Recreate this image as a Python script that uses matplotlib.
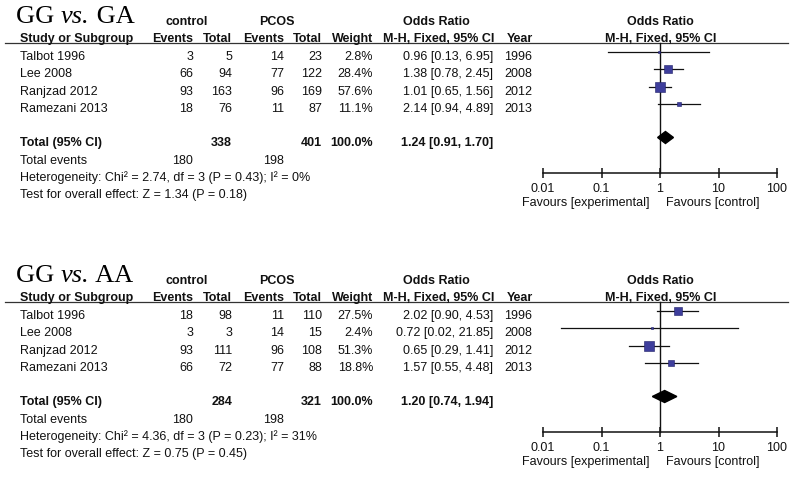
import matplotlib
matplotlib.use("Agg")
import matplotlib.pyplot as plt
from matplotlib.patches import Polygon

# ---------------- data ----------------
studies = ["Talbot 1996", "Lee 2008", "Ranjzad 2012", "Ramezani 2013"]
years = ["1996", "2008", "2012", "2013"]

# GG vs. GA
ga_ctrl_events = [3, 66, 93, 18]
ga_ctrl_total = [5, 94, 163, 76]
ga_pcos_events = [14, 77, 96, 11]
ga_pcos_total = [23, 122, 169, 87]
ga_weight = [2.8, 28.4, 57.6, 11.1]
ga_or = [0.96, 1.38, 1.01, 2.14]
ga_lo = [0.13, 0.78, 0.65, 0.94]
ga_hi = [6.95, 2.45, 1.56, 4.89]
ga_total = {"ctrl": 338, "pcos": 401, "or": 1.24, "lo": 0.91, "hi": 1.70,
            "ev_ctrl": 180, "ev_pcos": 198,
            "het": "Heterogeneity: Chi\u00b2 = 2.74, df = 3 (P = 0.43); I\u00b2 = 0%",
            "test": "Test for overall effect: Z = 1.34 (P = 0.18)"}

# GG vs. AA
aa_ctrl_events = [18, 3, 93, 66]
aa_ctrl_total = [98, 3, 111, 72]
aa_pcos_events = [11, 14, 96, 77]
aa_pcos_total = [110, 15, 108, 88]
aa_weight = [27.5, 2.4, 51.3, 18.8]
aa_or = [2.02, 0.72, 0.65, 1.57]
aa_lo = [0.90, 0.02, 0.29, 0.55]
aa_hi = [4.53, 21.85, 1.41, 4.48]
aa_total = {"ctrl": 284, "pcos": 321, "or": 1.20, "lo": 0.74, "hi": 1.94,
            "ev_ctrl": 180, "ev_pcos": 198,
            "het": "Heterogeneity: Chi\u00b2 = 4.36, df = 3 (P = 0.23); I\u00b2 = 31%",
            "test": "Test for overall effect: Z = 0.75 (P = 0.45)"}

axis_ticks = [0.01, 0.1, 1, 10, 100]
axis_tick_labels = ["0.01", "0.1", "1", "10", "100"]

# ---------------- figure ----------------
W, H = 795, 481
DPI = 100
plt.rcParams["font.family"] = ["Liberation Sans", "DejaVu Sans"]

fig = plt.figure(figsize=(W / DPI, H / DPI), dpi=DPI)
fig.patch.set_facecolor("white")
ov = fig.add_axes([0, 0, 1, 1])
ov.set_xlim(0, W)
ov.set_ylim(H, 0)
ov.axis("off")
ov.patch.set_alpha(0)
renderer = fig.canvas.get_renderer()

FS = 9
TXT = "#111111"
SQ_FILL = "#3e3e9c"
SQ_EDGE = "#1e1e66"

FX0, FX1 = 543, 777  # pixel extent of 0.01 .. 100


def t(x, y, s, ha="left", bold=False, va="center", **kw):
    ov.text(x, y, s, ha=ha, va=va, fontsize=FS,
            fontweight="bold" if bold else "normal", color=TXT, **kw)


def title_text(x, y, parts):
    # parts: list of (text, style)
    for s, style in parts:
        tx = ov.text(x, y, s, fontsize=19, family="Liberation Serif", style=style,
                     va="baseline", ha="left", color="black")
        bb = tx.get_window_extent(renderer=renderer)
        x += bb.width * W / fig.bbox.width


def section(y0, grp, ce, ct, pe, pt, wt, orv, lo, hi, tot):
    title_text(16, y0 + 23, [("GG ", "normal"), ("vs.", "italic"), (" " + grp, "normal")])
    # group headers
    t(187, y0 + 22, "control", ha="center", bold=True)
    t(277, y0 + 22, "PCOS", ha="center", bold=True)
    t(436, y0 + 22, "Odds Ratio", ha="center", bold=True)
    t(660, y0 + 22, "Odds Ratio", ha="center", bold=True)
    # column headers
    hb = y0 + 42
    t(20, hb, "Study or Subgroup", bold=True, va="baseline")
    t(193, hb, "Events", ha="right", bold=True, va="baseline")
    t(232, hb, "Total", ha="right", bold=True, va="baseline")
    t(284, hb, "Events", ha="right", bold=True, va="baseline")
    t(322, hb, "Total", ha="right", bold=True, va="baseline")
    t(373, hb, "Weight", ha="right", bold=True, va="baseline")
    t(494, hb, "M-H, Fixed, 95% CI", ha="right", bold=True, va="baseline")
    t(533, hb, "Year", ha="right", bold=True, va="baseline")
    t(661, hb, "M-H, Fixed, 95% CI", ha="center", bold=True, va="baseline")
    ov.plot([5, 788], [y0 + 44, y0 + 44], color="#333333", lw=0.9)

    # study rows
    for i in range(len(studies)):
        y = y0 + 57 + 17.4 * i
        t(20, y, studies[i])
        t(193, y, str(ce[i]), ha="right")
        t(232, y, str(ct[i]), ha="right")
        t(284, y, str(pe[i]), ha="right")
        t(322, y, str(pt[i]), ha="right")
        t(373, y, f"{wt[i]:.1f}%", ha="right")
        t(493, y, f"{orv[i]:.2f} [{lo[i]:.2f}, {hi[i]:.2f}]", ha="right")
        t(532, y, years[i], ha="right")

    # totals
    yt = y0 + 143
    t(20, yt, "Total (95% CI)", bold=True)
    t(232, yt, str(tot["ctrl"]), ha="right", bold=True)
    t(322, yt, str(tot["pcos"]), ha="right", bold=True)
    t(373, yt, "100.0%", ha="right", bold=True)
    t(493, yt, f"{tot['or']:.2f} [{tot['lo']:.2f}, {tot['hi']:.2f}]", ha="right", bold=True)
    t(20, y0 + 161, "Total events")
    t(193, y0 + 161, str(tot["ev_ctrl"]), ha="right")
    t(284, y0 + 161, str(tot["ev_pcos"]), ha="right")
    t(20, y0 + 178, tot["het"])
    t(20, y0 + 195, tot["test"])

    # favours labels
    t(650, y0 + 203.5, "Favours [experimental]", ha="right")
    t(666, y0 + 203.5, "Favours [control]", ha="left")

    # forest axes (y in pixel units)
    top, bot = y0 + 44, y0 + 174
    ax = fig.add_axes([FX0 / W, 1 - bot / H, (FX1 - FX0) / W, (bot - top) / H])
    ax.set_xscale("log")
    ax.set_xlim(0.01, 100)
    ax.set_ylim(bot, top)
    ax.patch.set_alpha(0)
    for sp in ["top", "left", "right"]:
        ax.spines[sp].set_visible(False)
    ax.spines["bottom"].set_linewidth(1.1)
    ax.spines["bottom"].set_color(TXT)
    ax.set_yticks([])
    ax.set_xticks(axis_ticks)
    ax.set_xticklabels(axis_tick_labels, fontsize=FS)
    ax.minorticks_off()
    ax.tick_params(axis="x", which="major", direction="inout", length=7,
                   width=1.1, pad=3, colors=TXT)
    ax.axvline(1, color=TXT, lw=1.0, clip_on=False)

    for i in range(len(studies)):
        y = y0 + 53 + 17.3 * i
        ax.plot([lo[i], hi[i]], [y, y], color=TXT, lw=0.9, clip_on=False)
        side = 1.4 * wt[i] ** 0.5  # pixels
        ax.scatter([orv[i]], [y], marker="s", s=(side * 0.72) ** 2,
                   facecolor=SQ_FILL, edgecolor=SQ_EDGE, linewidths=0.4,
                   zorder=3, clip_on=False)

    yd = y0 + 138.5
    hh = 6
    dia = Polygon([(tot["lo"], yd), (tot["or"], yd - hh), (tot["hi"], yd),
                   (tot["or"], yd + hh)], closed=True, facecolor="black",
                  edgecolor="black", zorder=4, clip_on=False)
    ax.add_patch(dia)


section(0, "GA", ga_ctrl_events, ga_ctrl_total, ga_pcos_events,
        ga_pcos_total, ga_weight, ga_or, ga_lo, ga_hi, ga_total)
section(259, "AA", aa_ctrl_events, aa_ctrl_total, aa_pcos_events,
        aa_pcos_total, aa_weight, aa_or, aa_lo, aa_hi, aa_total)

fig.savefig("out.png", dpi=DPI, facecolor="white")
